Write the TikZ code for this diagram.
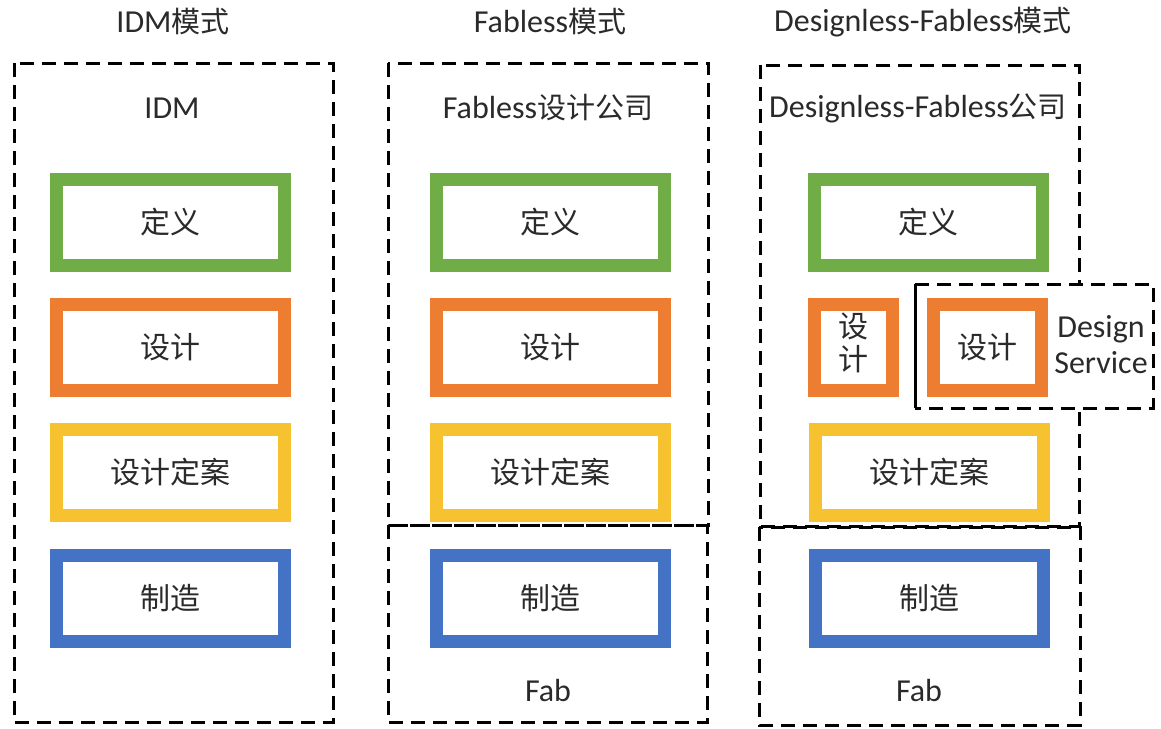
\documentclass[tikz,border=0pt]{standalone}
\usepackage{fontspec}
\setmainfont{Carlito}
\newfontfamily\cjk{Noto Sans CJK SC}
\definecolor{cgreen}{HTML}{70AD47}
\definecolor{corange}{HTML}{ED7D31}
\definecolor{cyellow}{HTML}{F7C230}
\definecolor{cblue}{HTML}{4472C4}
\definecolor{txt}{HTML}{2A2A2A}
\begin{document}
\begin{tikzpicture}[x=1pt,y=-1pt,
  stage/.style={draw=#1, line width=13pt, fill=white, inner sep=0pt,
    minimum width=228pt, minimum height=86pt, text=txt, font=\cjk\fontsize{30}{34}\selectfont},
  grp/.style={draw=black, line width=3pt, dash pattern=on 14pt off 8pt},
  lbl/.style={text=txt, inner sep=0pt, font=\fontsize{32}{36}\selectfont},
]
\useasboundingbox (0,0) rectangle (1161,728);
% titles
\node[lbl] (t1) at (173,22) {IDM{\cjk\fontsize{29}{34}\selectfont 模式}};
\node[lbl] (t2) at (550,22) {Fabless{\cjk\fontsize{29}{34}\selectfont 模式}};
\node[lbl] (t3) at (923,22) {Designless-Fabless{\cjk\fontsize{29}{34}\selectfont 模式}};
% column 1
\draw[grp] (14,63) rectangle (333,722);
\node[lbl] (c1h) at (172,108) {IDM};
\node[stage=cgreen] (a1) at (170.5,222.5) {定义};
\node[stage=corange] (a2) at (170.5,347) {设计};
\node[stage=cyellow] (a3) at (170.5,472) {设计定案};
\node[stage=cblue] (a4) at (170.5,598) {制造};
% column 2
\draw[grp] (388,63) rectangle (708,525);
\draw[grp] (388,525) rectangle (707,722);
\node[lbl] (c2h) at (548,108) {Fabless{\cjk\fontsize{29}{34}\selectfont 设计公司}};
\node[stage=cgreen] (b1) at (550,222.5) {定义};
\node[stage=corange] (b2) at (550,347) {设计};
\node[stage=cyellow] (b3) at (550,472) {设计定案};
\node[stage=cblue] (b4) at (550,598) {制造};
\node[lbl] (f2) at (548,690) {Fab};
% column 3
\draw[grp] (760,65) rectangle (1079,526);
\draw[grp] (759,527) rectangle (1080,725);
\node[lbl] (c3h) at (918,108) {Designless-Fabless{\cjk\fontsize{29}{34}\selectfont 公司}};
\node[stage=cgreen] (d1) at (928,222.5) {定义};
% design service box
\fill[white] (915,284) rectangle (1153,408);
\draw[grp] (915,284) -- (1153,284) -- (1153,408) -- (915,408);
\draw[black, line width=3pt] (915,284) -- (915,408);
\node[stage=corange, minimum width=78pt] (d2a) at (853.5,347)
  {\begin{tabular}{@{}c@{}}设\\[-2pt]计\end{tabular}};
\node[stage=corange, minimum width=108pt] (d2b) at (987.5,347) {设计};
\node[lbl, align=center] (ds) at (1101,345) {Design\\Service};
\node[stage=cyellow] (d3) at (929,472) {设计定案};
\node[stage=cblue] (d4) at (929,598) {制造};
\node[lbl] (f3) at (919,690) {Fab};
\end{tikzpicture}
\end{document}
